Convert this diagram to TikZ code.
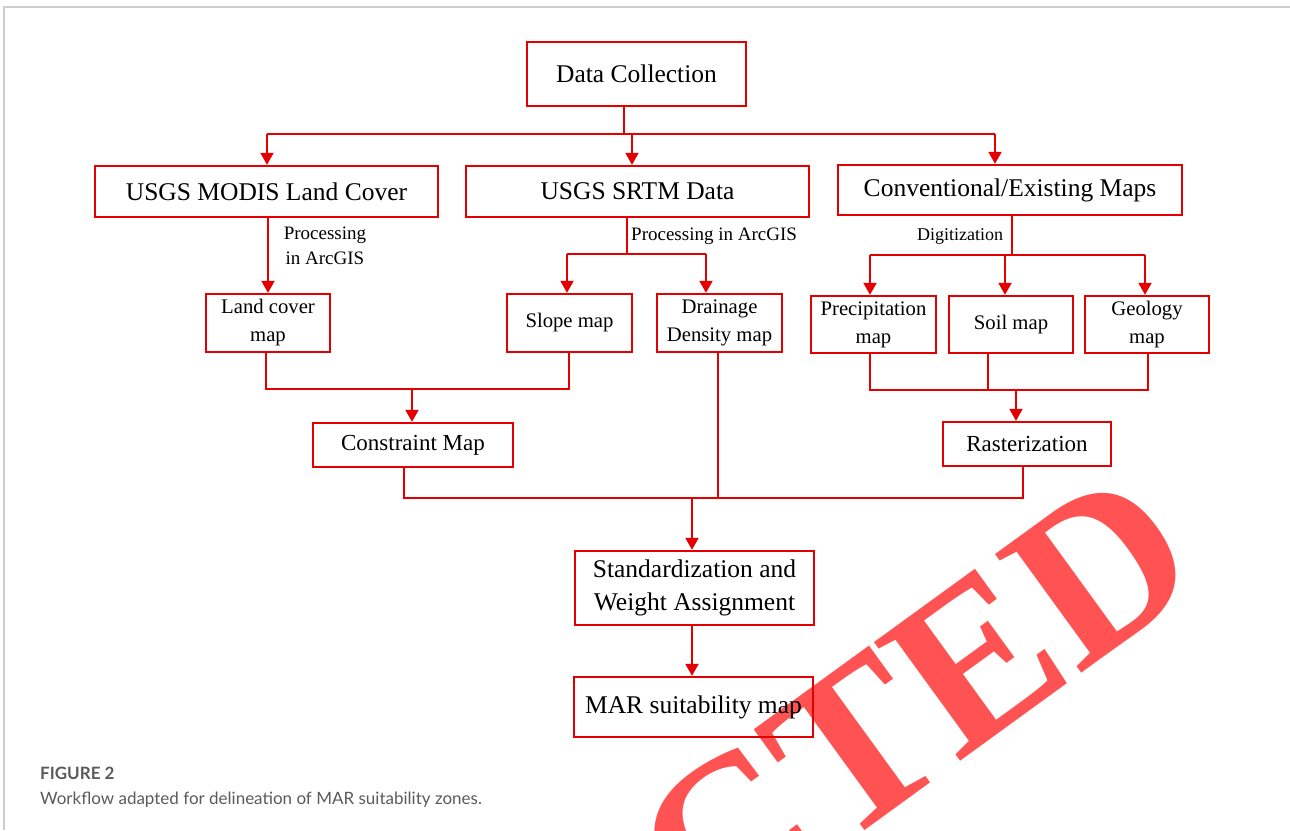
\documentclass[tikz,border=0pt]{standalone}
\usepackage{fontspec}
\setmainfont{Liberation Serif}
\newfontfamily\capfont{Lato}
\usetikzlibrary{arrows.meta,calc}
\definecolor{lred}{RGB}{228,0,0}
\definecolor{wmred}{RGB}{255,82,82}
\definecolor{framegray}{RGB}{205,205,205}
\definecolor{capgray}{RGB}{90,90,90}
\begin{document}
\begin{tikzpicture}[x=1pt,y=-1pt,
  box/.style={draw=lred, line width=2.4pt, inner sep=0pt, align=center, text=black},
  big/.style={font=\fontsize{25.5}{31}\selectfont},
  mid/.style={font=\fontsize{23}{28}\selectfont},
  small/.style={font=\fontsize{20.7}{28}\selectfont},
  lab/.style={font=\fontsize{19}{25}\selectfont, inner sep=0pt},
  conn/.style={draw=lred, line width=2pt},
  arr/.style={conn, -{Triangle[length=12pt,width=13pt]}}
]
\useasboundingbox (0,0) rectangle (1290,830);
\begin{scope}
\clip (0,0) rectangle (1290,830);
\node[text=wmred, rotate=36, anchor=base west, inner sep=0pt,
      font=\bfseries\fontsize{224}{224}\selectfont] (wmk) at (706,946) {CTED};
\end{scope}
% frame
\coordinate (fa) at (4,830);
\coordinate (fb) at (4,7);
\coordinate (fc) at (1290,7);
\draw[framegray, line width=1.5pt] (fa) -- (fb) -- (fc);

% boxes
\node[box, big, minimum width=219pt, minimum height=64pt] (dc) at (636.5,74) {\raisebox{-3pt}{Data Collection}};
\node[box, big, minimum width=343pt, minimum height=51pt] (modis) at (266.5,191.5) {USGS MODIS Land Cover};
\node[box, big, minimum width=343pt, minimum height=51pt] (srtm) at (637.5,191.5) {USGS SRTM Data};
\node[box, big, minimum width=344pt, minimum height=50pt] (conv) at (1010,190) {\raisebox{-3pt}{Conventional/Existing Maps}};
\node[box, small, minimum width=124pt, minimum height=58pt] (lc) at (268,323) {Land cover\\map};
\node[box, small, minimum width=125pt, minimum height=58pt] (slope) at (569.5,323) {Slope map};
\node[box, small, minimum width=125pt, minimum height=58pt] (drain) at (719.5,323) {Drainage\\Density map};
\node[box, small, minimum width=125pt, minimum height=57pt] (precip) at (873.5,324.5) {Precipitation\\map};
\node[box, small, minimum width=124pt, minimum height=57pt] (soil) at (1011,324.5) {Soil map};
\node[box, small, minimum width=124pt, minimum height=57pt] (geol) at (1147,324.5) {Geology\\map};
\node[box, mid, minimum width=200pt, minimum height=44pt] (cons) at (413,445) {Constraint Map};
\node[box, mid, minimum width=168pt, minimum height=44pt] (rast) at (1027,444) {Rasterization};
\node[box, font=\fontsize{25.5}{33}\selectfont, minimum width=239pt, minimum height=74pt] (std) at (694.5,588) {Standardization and\\Weight Assignment};
\node[box, big, minimum width=239pt, minimum height=60pt] (mar) at (693.5,707) {\raisebox{-3pt}{MAR suitability map}};

% labels
\node[lab, align=center] (l1) at (325,245.5) {Processing\\in ArcGIS};
\node[lab, anchor=west] (l2) at (631,236) {Processing in ArcGIS};
\node[lab, font=\fontsize{18}{22}\selectfont] (l3) at (960,236) {Digitization};

% level 1
\coordinate (j1) at (624,134);
\coordinate (b1l) at (267,134);
\coordinate (b1r) at (995,134);
\coordinate (t1m) at ($(srtm.north)+(-5.5,0)$);
\coordinate (t1r) at ($(conv.north)+(-15,0)$);
\draw[conn] (dc.south -| j1) -- (j1);
\draw[conn] (b1l) -- (b1r);
\draw[arr] (b1l) -- (b1l |- modis.north);
\draw[arr] (j1 -| t1m) -- (t1m);
\draw[arr] (b1r) -- (t1r);

% MODIS -> land cover
\draw[arr] (modis.south -| lc.north) -- (lc.north);

% SRTM branch
\coordinate (j2) at (627,254);
\coordinate (b2l) at (567,254);
\coordinate (b2r) at (706,254);
\draw[conn] (srtm.south -| j2) -- (j2);
\draw[conn] (b2l) -- (b2r);
\draw[arr] (b2l) -- (b2l |- slope.north);
\draw[arr] (b2r) -- (b2r |- drain.north);

% Conventional branch
\coordinate (j3) at (1012,255);
\coordinate (b3l) at (870,255);
\coordinate (b3m) at (1005,255);
\coordinate (b3r) at (1145,255);
\draw[conn] (conv.south -| j3) -- (j3);
\draw[conn] (b3l) -- (b3r);
\draw[arr] (b3l) -- (b3l |- precip.north);
\draw[arr] (b3m) -- (b3m |- soil.north);
\draw[arr] (b3r) -- (b3r |- geol.north);

% land cover + slope -> constraint
\coordinate (c1) at (266,389);
\coordinate (c2) at (569,389);
\coordinate (c3) at (412,389);
\draw[conn] (lc.south -| c1) -- (c1) -- (c2) -- (slope.south -| c2);
\draw[arr] (c3) -- (c3 |- cons.north);

% precip + soil + geology -> rasterization
\coordinate (r1) at (870,390);
\coordinate (r2) at (988,390);
\coordinate (r3) at (1148,390);
\coordinate (r4) at (1016,390);
\draw[conn] (precip.south -| r1) -- (r1) -- (r3) -- (geol.south -| r3);
\draw[conn] (soil.south -| r2) -- (r2);
\draw[arr] (r4) -- (r4 |- rast.north);

% merge -> standardization
\coordinate (m1) at (404,498);
\coordinate (m2) at (718,498);
\coordinate (m3) at (1023,498);
\coordinate (m4) at (692,498);
\draw[conn] (cons.south -| m1) -- (m1) -- (m3) -- (rast.south -| m3);
\draw[conn] (drain.south -| m2) -- (m2);
\draw[arr] (m4) -- (m4 |- std.north);
\draw[arr] (std.south -| m4) -- (m4 |- mar.north);

% caption
\node[anchor=base west, inner sep=0pt, text=capgray, font=\capfont\bfseries\fontsize{17}{20}\selectfont] (fig) at (40,779) {FIGURE 2};
\node[anchor=base west, inner sep=0pt, text=capgray, font=\capfont\fontsize{17}{20}\selectfont] (cap) at (40,804) {Workflow adapted for delineation of MAR suitability zones.};
\end{tikzpicture}
\end{document}
